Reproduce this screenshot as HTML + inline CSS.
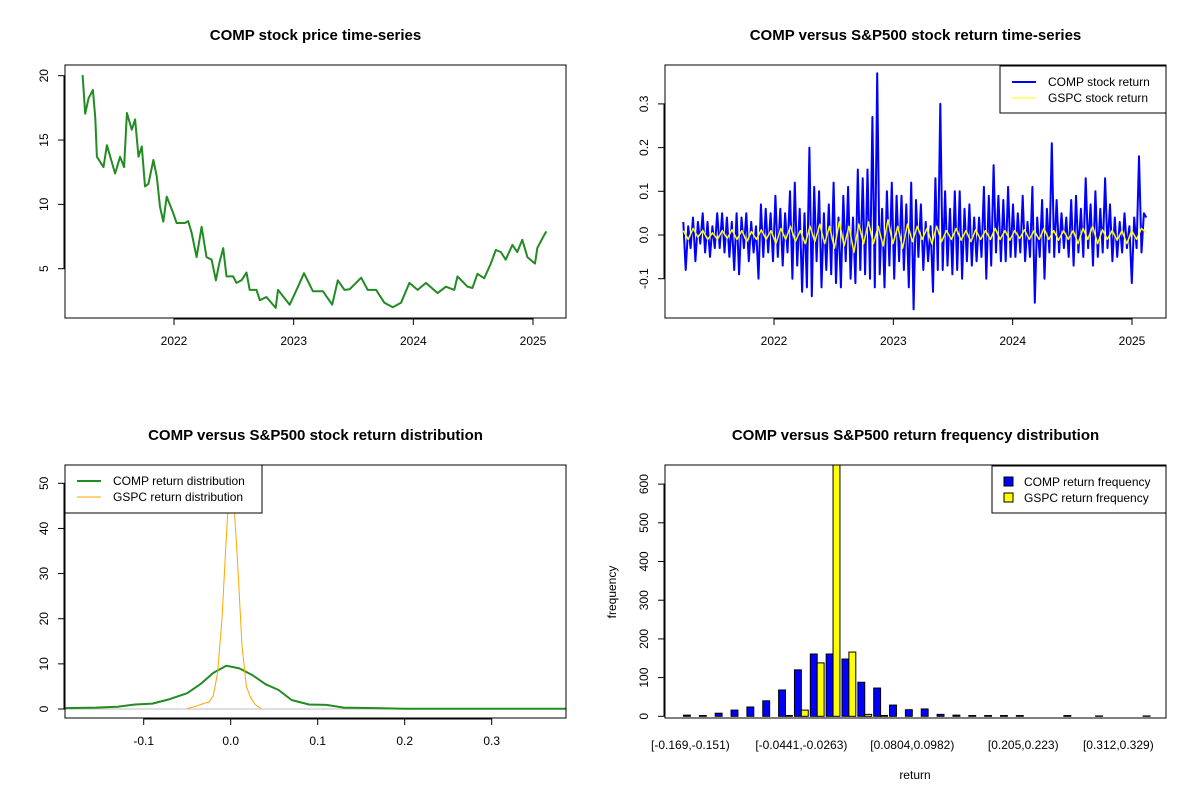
<!DOCTYPE html>
<html><head><meta charset="utf-8"><style>
html,body{margin:0;padding:0;background:#fff;}
svg{display:block;font-family:"Liberation Sans",Arial,sans-serif;}
.t{font-weight:bold;font-size:15px;text-anchor:middle;}
.tk{font-size:12px;}
</style></head><body>
<svg id="chart" width="1200" height="800" viewBox="0 0 1200 800" xmlns="http://www.w3.org/2000/svg"></svg>
<script>
// ---- Panel 1 data: COMP price ----
const priceDates=[2021.236,2021.258,2021.286,2021.322,2021.342,2021.356,2021.411,2021.439,2021.508,2021.55,2021.583,2021.606,2021.647,2021.675,2021.703,2021.731,2021.758,2021.786,2021.828,2021.856,2021.883,2021.911,2021.939,2021.994,2022.022,2022.092,2022.119,2022.147,2022.189,2022.231,2022.272,2022.314,2022.35,2022.378,2022.411,2022.439,2022.494,2022.522,2022.564,2022.606,2022.633,2022.689,2022.717,2022.772,2022.85,2022.869,2022.967,2023.036,2023.086,2023.161,2023.244,2023.322,2023.369,2023.425,2023.467,2023.564,2023.619,2023.689,2023.758,2023.828,2023.897,2023.967,2024.036,2024.106,2024.203,2024.272,2024.342,2024.369,2024.453,2024.494,2024.536,2024.592,2024.647,2024.689,2024.731,2024.772,2024.828,2024.869,2024.911,2024.953,2025.017,2025.036,2025.078,2025.111];
const priceVals=[20.05,17.05,18.25,18.9,16.7,13.7,12.9,14.6,12.4,13.7,12.9,17.1,15.8,16.6,13.7,14.5,11.4,11.6,13.45,12.15,9.8,8.65,10.6,9.3,8.55,8.55,8.7,7.8,5.9,8.25,5.9,5.7,4.1,5.4,6.6,4.4,4.4,3.9,4.1,4.7,3.35,3.35,2.55,2.8,1.95,3.35,2.2,3.6,4.65,3.25,3.25,2.2,4.1,3.35,3.4,4.3,3.35,3.35,2.35,2.0,2.35,3.9,3.35,3.9,3.1,3.6,3.35,4.4,3.6,3.5,4.6,4.25,5.4,6.45,6.3,5.7,6.85,6.3,7.25,5.9,5.4,6.6,7.35,7.9];
const p1YTicks=[5,10,15,20];
const yearTicks=[2022,2023,2024,2025];
// ---- Panel 2 data: returns ----
const compRet=[0.03,-0.08,0.02,-0.03,0.04,-0.06,0.03,-0.02,0.05,-0.04,0.03,-0.05,0.02,-0.03,0.05,-0.03,
0.05,-0.04,0.04,-0.05,0.03,-0.08,0.05,-0.09,0.04,-0.03,0.05,-0.06,0.03,-0.04,0.02,-0.1,
0.07,-0.05,0.06,-0.04,0.05,-0.06,0.09,-0.05,0.06,-0.07,0.05,-0.04,0.10,-0.10,0.12,-0.07,
0.06,-0.13,0.05,-0.12,0.20,-0.14,0.11,-0.06,0.10,-0.12,0.05,-0.08,0.07,-0.09,0.12,-0.11,
0.04,-0.12,0.09,-0.06,0.11,-0.10,0.04,-0.11,0.15,-0.08,0.13,-0.09,0.15,-0.10,0.27,-0.12,
0.37,-0.09,0.06,-0.12,0.10,-0.07,0.12,-0.10,0.09,-0.06,0.09,-0.08,0.07,-0.12,0.12,-0.17,
0.08,-0.05,0.07,-0.08,0.03,-0.06,0.02,-0.13,0.13,-0.08,0.30,-0.08,0.10,-0.07,0.06,-0.09,
0.10,-0.08,0.10,-0.10,0.06,-0.06,0.07,-0.07,0.04,-0.06,0.04,-0.05,0.11,-0.10,0.09,-0.07,
0.16,-0.04,0.09,-0.06,0.08,-0.06,0.11,-0.05,0.07,-0.05,0.05,-0.04,0.09,-0.06,0.03,-0.05,
0.11,-0.155,0.04,-0.05,0.08,-0.10,0.06,-0.04,0.21,-0.05,0.08,-0.04,0.05,-0.03,0.04,-0.05,
0.08,-0.07,0.09,-0.04,0.06,-0.05,0.13,-0.03,0.07,-0.07,0.10,-0.05,0.06,-0.04,0.13,-0.03,
0.07,-0.06,0.04,-0.05,0.03,-0.04,0.05,-0.03,0.02,-0.11,0.04,-0.03,0.18,-0.04,0.05,0.04];
const gspcRet=[0.01,-0.01,0.015,-0.005,0.01,-0.01,0.005,-0.01,0.01,-0.008,0.012,-0.01,0.01,-0.015,0.008,-0.01,
0.012,-0.01,0.01,-0.02,0.015,-0.01,0.02,-0.015,0.01,-0.02,0.02,-0.015,0.025,-0.02,0.02,-0.03,
0.03,-0.025,0.02,-0.04,0.025,-0.02,0.03,-0.02,0.02,-0.025,0.035,-0.02,0.02,-0.03,0.025,-0.015,
0.02,-0.01,0.015,-0.02,0.02,-0.015,0.01,-0.01,0.015,-0.012,0.01,-0.015,0.012,-0.01,0.01,-0.01,
0.015,-0.01,0.01,-0.012,0.01,-0.008,0.012,-0.01,0.01,-0.01,0.015,-0.01,0.01,-0.012,0.01,-0.01,
0.01,-0.02,0.015,-0.01,0.02,-0.02,0.012,-0.01,0.01,-0.012,0.01,-0.02,0.01,-0.01,0.015,0.005];
const retYTicks=[-0.1,0.0,0.1,0.2,0.3];
// ---- Panel 3 data: densities ----
const compDx=[-0.19,-0.155,-0.13,-0.11,-0.09,-0.07,-0.05,-0.035,-0.02,-0.005,0.01,0.025,0.04,0.055,0.07,0.09,0.11,0.13,0.165,0.2,0.385];
const compDy=[0.2,0.3,0.5,1.0,1.2,2.2,3.5,5.5,8,9.6,9,7.5,5.5,4.2,2,1.0,0.9,0.3,0.2,0.05,0.05];
const gspcDx=[-0.05,-0.04,-0.03,-0.025,-0.02,-0.015,-0.01,-0.005,-0.002,0,0.003,0.008,0.013,0.018,0.023,0.028,0.035];
const gspcDy=[0.1,0.6,1.3,1.5,3,8,20,38,48,52,48,32,14,5,2.5,1,0.1];
const densXTicks=[-0.1,0.0,0.1,0.2,0.3];
const densYTicks=[0,10,20,30,40,50];
// ---- Panel 4 data: histogram ----
const compFreq=[3,2,8,16,24,40,68,120,161,161,148,88,73,29,17,19,5,3,2,2,2,2,0,0,2,0,1,0,0,1];
const gspcFreq=[0,0,0,0,0,0,2,16,138,700,166,5,2,0,0,0,0,0,0,0,0,0,0,0,0,0,0,0,0,0];
const binLabelIdx=[0,7,14,21,27];
const binLabels=["[-0.169,-0.151)","[-0.0441,-0.0263)","[0.0804,0.0982)","[0.205,0.223)","[0.312,0.329)"];
const freqYTicks=[0,100,200,300,400,500,600];

const svg=document.getElementById('chart');
const NS='http://www.w3.org/2000/svg';
function el(tag,attrs,parent,text){const e=document.createElementNS(NS,tag);for(const k in attrs)e.setAttribute(k,attrs[k]);if(text!==undefined)e.textContent=text;(parent||svg).appendChild(e);return e;}
function lin(d0,d1,r0,r1){return v=>r0+(v-d0)*(r1-r0)/(d1-d0);}
function clip(id,x,y,w,h){const cp=el('clipPath',{id:id});el('rect',{x:x,y:y,width:w,height:h},cp);}

function panel(name,L,R,T,B,title){
  const g=el('g',{});
  
  
  const t=el('text',{x:(L+R)/2,y:T-25,class:'t'},g,title);
  
  
  clip(name+'-clip',L,T,R-L,B-T);
  return g;
}
function box(g,name,L,R,T,B){const r=el('rect',{x:L,y:T,width:R-L,height:B-T,fill:'none',stroke:'#000','stroke-width':1},g);
  
  }
function xAxis(g,name,ticks,sx,B,labels){
  const ax=el('g',{},g);
  
  
  el('line',{x1:sx(ticks[0]),x2:sx(ticks[ticks.length-1]),y1:B+1,y2:B+1,stroke:'#000'},ax);
  ticks.forEach((v,i)=>{el('line',{x1:sx(v),x2:sx(v),y1:B,y2:B+7,stroke:'#000'},ax);
    const tx=el('text',{x:sx(v),y:B+27,class:'tk','text-anchor':'middle'},ax,labels?labels[i]:String(v));
    
    });
}
function yAxis(g,name,ticks,sy,L,fmt){
  const ax=el('g',{},g);
  
  
  el('line',{x1:L-1,x2:L-1,y1:sy(ticks[0]),y2:sy(ticks[ticks.length-1]),stroke:'#000'},ax);
  ticks.forEach(v=>{const y=sy(v);el('line',{x1:L-7,x2:L,y1:y,y2:y,stroke:'#000'},ax);
    const tx=el('text',{x:L-21,y:y,class:'tk','text-anchor':'middle',transform:`rotate(-90 ${L-21} ${y})`,dy:'4'},ax,fmt?fmt(v):String(v));
    
    });
}
function path(g,name,xs,ys,sx,sy,color,w,cl){
  const d=xs.map((x,i)=>(i?'L':'M')+sx(x).toFixed(1)+','+sy(ys[i]).toFixed(1)).join('');
  const p=el('path',{d:d,fill:'none',stroke:color,'stroke-width':w,'clip-path':`url(#${cl})`,'stroke-linejoin':'round'},g);
  
  
  return p;
}
function legend(g,name,x,y,w,h,items){
  const lg=el('g',{},g);
  
  
  el('rect',{x:x,y:y,width:w,height:h,fill:'#fff',stroke:'#000'},lg);
  items.forEach((it,i)=>{const yy=y+16+i*16;
    if(it.type==='line')el('line',{x1:x+12,x2:x+36,y1:yy,y2:yy,stroke:it.color,'stroke-width':it.w},lg);
    else el('rect',{x:x+12,y:yy-5,width:9,height:9,fill:it.color,stroke:'#000'},lg);
    const tx=el('text',{x:x+(it.type==='line'?48:32),y:yy+4,class:'tk'},lg,it.label);
    
    });
}

// Panel 1
(function(){const L=65,R=566,T=65,B=318;const g=panel('price-panel',L,R,T,B,'COMP stock price time-series');
 const sx=lin(2022,2025,174,533),sy=lin(5,20,268.7,75.7);
 path(g,'comp-price-line',priceDates,priceVals,sx,sy,'#228B22',2,'price-panel-clip');
 box(g,'price',L,R,T,B);xAxis(g,'price',yearTicks,sx,B);yAxis(g,'price',p1YTicks,sy,L);})();

// Panel 2
(function(){const L=665,R=1166,T=65,B=318;const g=panel('return-panel',L,R,T,B,'COMP versus S&P500 stock return time-series');
 const sx=lin(2022,2025,774,1132),sy=lin(0,0.1,235,191.3);
 const t0=2021.24,t1=2025.12;
 const cx=compRet.map((v,i)=>t0+i*(t1-t0)/(compRet.length-1));
 const gx=gspcRet.map((v,i)=>t0+i*(t1-t0)/(gspcRet.length-1));
 path(g,'comp-return-line',cx,compRet,sx,sy,'#0000FF',2,'return-panel-clip');
 path(g,'gspc-return-line',gx,gspcRet,sx,sy,'#FFFF00',1.5,'return-panel-clip');
 box(g,'return',L,R,T,B);xAxis(g,'return',yearTicks,sx,B);yAxis(g,'return',retYTicks,sy,L,v=>v.toFixed(1));
 legend(g,'return-legend',1000,66,166,47,[{type:'line',color:'#0000FF',w:2,label:'COMP stock return'},{type:'line',color:'#FFFF00',w:1,label:'GSPC stock return'}]);})();

// Panel 3
(function(){const L=65,R=566,T=465,B=718;const g=panel('density-panel',L,R,T,B,'COMP versus S&P500 stock return distribution');
 const sx=lin(0,0.1,230.7,317.7),sy=lin(0,50,709,483.3);
 const zl=el('line',{x1:L,x2:R,y1:sy(0),y2:sy(0),stroke:'#bebebe'},g);
 
 
 path(g,'comp-density-curve',compDx,compDy,sx,sy,'#228B22',2,'density-panel-clip');
 path(g,'gspc-density-curve',gspcDx,gspcDy,sx,sy,'#FFA500',1,'density-panel-clip');
 box(g,'density',L,R,T,B);xAxis(g,'density',densXTicks,sx,B,densXTicks.map(v=>v.toFixed(1)));yAxis(g,'density',densYTicks,sy,L);
 legend(g,'density-legend',65,465,197,48,[{type:'line',color:'#228B22',w:2,label:'COMP return distribution'},{type:'line',color:'#FFA500',w:1,label:'GSPC return distribution'}]);})();

// Panel 4
(function(){const L=665,R=1166,T=465,B=718;const g=panel('histogram-panel',L,R,T,B,'COMP versus S&P500 return frequency distribution');
 const u=6.9,gw=15.85,x0=683.5;const gx=k=>x0+k*gw;const sy=lin(0,100,716.3,677.6);
 const bars=el('g',{'clip-path':'url(#histogram-panel-clip)'},g);
 compFreq.forEach((v,k)=>{const r=el('rect',{x:gx(k),y:sy(v),width:u,height:sy(0)-sy(v),fill:'#0000FF',stroke:'#000','stroke-width':1},bars);
  
  });
 gspcFreq.forEach((v,k)=>{const r=el('rect',{x:gx(k)+u,y:sy(v),width:u,height:sy(0)-sy(v),fill:'#FFFF00',stroke:'#000','stroke-width':1},bars);
  
  });
 box(g,'histogram',L,R,T,B);
 binLabelIdx.forEach((k,i)=>{const tx=el('text',{x:gx(k)+u,y:B+31,class:'tk','text-anchor':'middle'},g,binLabels[i]);
  
  });
 yAxis(g,'histogram',freqYTicks,sy,L);
 const xt=el('text',{x:915,y:779,class:'tk','text-anchor':'middle'},g,'return');
 
 
 const yt=el('text',{x:616,y:592,class:'tk','text-anchor':'middle',transform:'rotate(-90 616 592)'},g,'frequency');
 
 
 legend(g,'histogram-legend',992,466,174,47,[{type:'box',color:'#0000FF',label:'COMP return frequency'},{type:'box',color:'#FFFF00',label:'GSPC return frequency'}]);})();
</script>
</body></html>
